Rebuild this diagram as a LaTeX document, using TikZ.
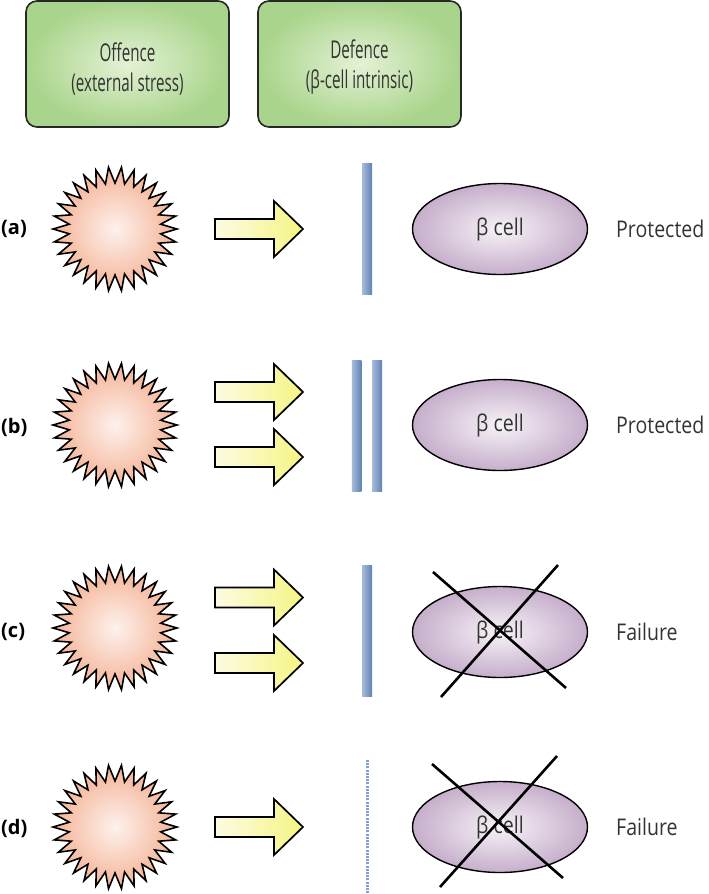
\documentclass[tikz,border=0pt]{standalone}
\usepackage{fontspec}
\setmainfont{Open Sans}
\newfontfamily\hdrfont{Open Sans}[FakeStretch=0.62]
\newfontfamily\lblfont{Open Sans}[FakeStretch=0.85]
\usetikzlibrary{shapes.geometric}
\definecolor{txt}{HTML}{333333}
\definecolor{grin}{HTML}{E4F2D6}
\definecolor{grout}{HTML}{A9D48B}
\definecolor{stin}{HTML}{FDF1EC}
\definecolor{stout}{HTML}{F5B396}
\definecolor{arl}{HTML}{FDFBE2}
\definecolor{arr}{HTML}{F5F584}
\definecolor{bal}{HTML}{A9BBDA}
\definecolor{bar}{HTML}{5F82B6}
\definecolor{elin}{HTML}{F7F3F7}
\definecolor{elout}{HTML}{C6AECB}
\definecolor{dotc}{HTML}{849FD2}
\tikzset{
  hdr/.style={draw=black!85, line width=1.6pt, rounded corners=11pt,
    minimum width=203pt, minimum height=126pt, inner color=grin, outer color=grout},
  hdrtxt/.style={text=txt, align=center, inner sep=0pt,
    font=\hdrfont\fontsize{24.5}{30}\selectfont},
  burst/.style={star, star points=30, star point ratio=1.35, minimum size=124pt,
    inner sep=0pt, draw=black, line width=1.6pt, inner color=stin, outer color=stout,
    shape border rotate=90},
  cell/.style={ellipse, draw=black, line width=1.4pt, minimum width=175pt,
    minimum height=91pt, inner color=elin, outer color=elout, text=txt,
    font=\lblfont\fontsize{23}{28}\selectfont},
  barbox/.style={rectangle, minimum width=10pt, minimum height=131pt, inner sep=0pt,
    left color=bal, right color=bar},
  rowlbl/.style={anchor=west, font=\bfseries\fontsize{20}{24}\selectfont, text=black, inner sep=0pt},
  outlbl/.style={anchor=west, font=\lblfont\fontsize{23}{28}\selectfont, text=txt, inner sep=0pt},
  crossln/.style={line width=2.6pt, black},
  pics/fatarrow/.style={code={
    \path[draw=black, line width=1.7pt, line join=miter, left color=arl, right color=arr]
      (0,-10) -- (59,-10) -- (59,-28) -- (88,0) -- (59,28) -- (59,10) -- (0,10) -- cycle;
  }}
}
\begin{document}
\begin{tikzpicture}[x=1pt,y=-1pt]
\useasboundingbox (0,0) rectangle (709,894);
% headers
\node[hdr] (off) at (127.5,64) {};
\node[hdrtxt] (offt) at (127.5,69) {Offence\\(external stress)};
\node[hdr] (def) at (359.5,64) {};
\node[hdrtxt] (deft) at (359.5,67) {Defence\\(β-cell intrinsic)};
% row a
\node[rowlbl] (la) at (1,229) {(a)};
\node[burst] (sa) at (115,229) {};
\pic at (215,229) {fatarrow};
\node[barbox] (ba) at (367,228.5) {};
\node[cell] (ca) at (500,229) {β cell};
\node[outlbl] (oa) at (616,229) {Protected};
% row b
\node[rowlbl] (lb) at (1,427) {(b)};
\node[burst] (sb) at (115,425) {};
\pic at (215,392) {fatarrow};
\pic at (215,457) {fatarrow};
\node[barbox, minimum width=9.5pt] (bb1) at (356.5,425.5) {};
\node[barbox] (bb2) at (377,425.5) {};
\node[cell] (cb) at (500,425) {β cell};
\node[outlbl] (ob) at (616,425) {Protected};
% row c
\node[rowlbl] (lc) at (1,632) {(c)};
\node[burst] (sc) at (115,628) {};
\pic at (215,597.5) {fatarrow};
\pic at (215,663) {fatarrow};
\node[barbox] (bc) at (367,630.5) {};
\node[cell] (cc) at (500,632) {β cell};
\node[outlbl] (oc) at (616,632) {Failure};
\draw[crossln] ([shift={(-67,-60)}]cc.center) -- ([shift={(66,56)}]cc.center);
\draw[crossln] ([shift={(-59,65)}]cc.center) -- ([shift={(58,-67)}]cc.center);
% row d
\node[rowlbl] (ld) at (1,828) {(d)};
\node[burst] (sd) at (115,827) {};
\pic at (215,827) {fatarrow};
\coordinate (dtop) at (367,760);
\coordinate (dbot) at (367,894);
\draw[dotc, line width=3pt, dash pattern=on 2pt off 1.2pt] (dtop) -- (dbot);
\node[cell] (cd) at (500,827) {β cell};
\node[outlbl] (od) at (616,827) {Failure};
\draw[crossln] ([shift={(-68,-63)}]cd.center) -- ([shift={(63,51)}]cd.center);
\draw[crossln] ([shift={(-60,60)}]cd.center) -- ([shift={(57,-71)}]cd.center);
\end{tikzpicture}
\end{document}
